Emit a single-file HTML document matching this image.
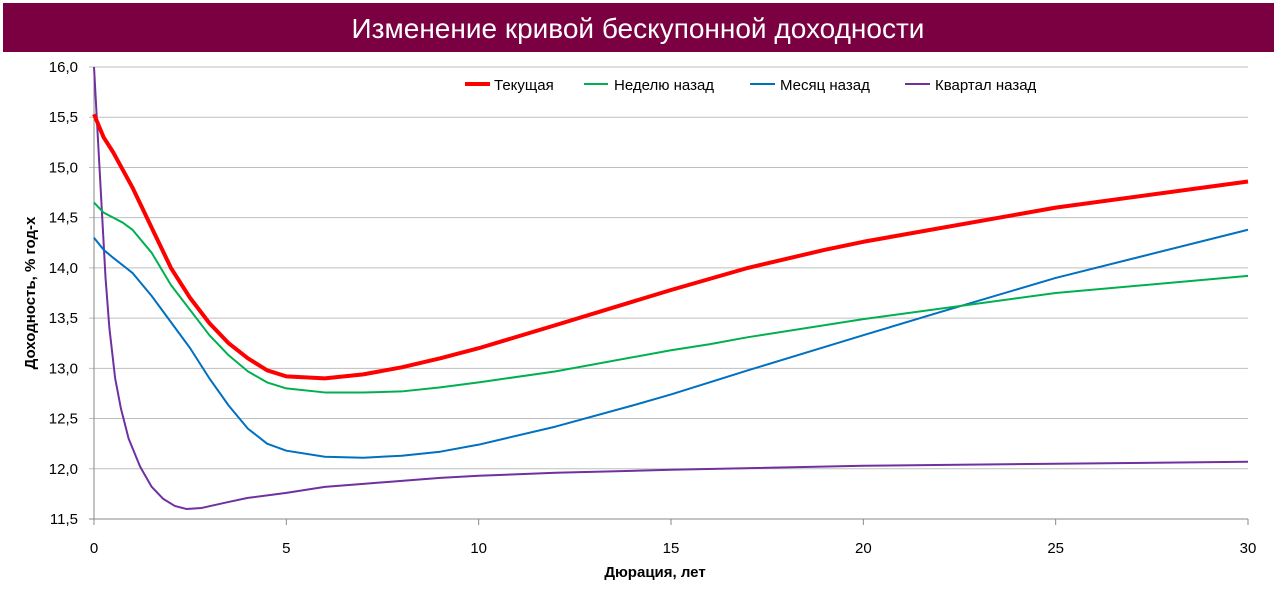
<!DOCTYPE html><html><head><meta charset="utf-8"><style>
body{margin:0;background:#fff;font-family:"Liberation Sans",sans-serif}
</style></head><body>
<svg width="1277" height="586" xmlns="http://www.w3.org/2000/svg" font-family="Liberation Sans, sans-serif">
<rect x="3" y="3" width="1271" height="49" fill="#7B0041"/>
<text x="638" y="38" text-anchor="middle" fill="#fff" font-size="28">Изменение кривой бескупонной доходности</text>
<g id="grid"></g><g id="axes"></g><g id="series"></g>
<text x="655" y="577" text-anchor="middle" font-size="15" font-weight="bold">Дюрация, лет</text>
<text transform="translate(35,293) rotate(-90)" text-anchor="middle" font-size="15" font-weight="bold">Доходность, % год-х</text>
<g>
<line x1="465" y1="84" x2="490" y2="84" stroke="#FF0000" stroke-width="4"/><text x="494" y="90" font-size="15">Текущая</text>
<line x1="584" y1="84" x2="608" y2="84" stroke="#00B050" stroke-width="2"/><text x="614" y="90" font-size="15">Неделю назад</text>
<line x1="750" y1="84" x2="775" y2="84" stroke="#0070C0" stroke-width="2"/><text x="780" y="90" font-size="15">Месяц назад</text>
<line x1="905" y1="84" x2="930" y2="84" stroke="#7030A0" stroke-width="2"/><text x="935" y="90" font-size="15">Квартал назад</text>
</g>
</svg>
<script>
const yTicks=[11.5,12,12.5,13,13.5,14,14.5,15,15.5,16];
const xTicks=[0,5,10,15,20,25,30];
const redX=[0,0.25,0.5,1,1.5,2,2.5,3,3.5,4,4.5,5,6,7,8,9,10,12,15,17,19,20,25,30];
const redY=[15.53,15.3,15.15,14.8,14.4,14.0,13.7,13.45,13.25,13.1,12.98,12.92,12.9,12.94,13.01,13.1,13.2,13.43,13.78,14.0,14.18,14.26,14.6,14.86];
const greenX=[0,0.25,0.5,0.75,1,1.5,2,2.5,3,3.5,4,4.5,5,6,7,8,9,10,12,15,16,17,20,25,30];
const greenY=[14.65,14.55,14.5,14.45,14.38,14.15,13.83,13.58,13.33,13.13,12.97,12.86,12.8,12.76,12.76,12.77,12.81,12.86,12.97,13.18,13.24,13.31,13.49,13.75,13.92];
const blueX=[0,0.25,0.5,1,1.5,2,2.5,3,3.5,4,4.5,5,6,7,8,9,10,12,14,15,17,20,22,25,30];
const blueY=[14.3,14.18,14.1,13.95,13.72,13.46,13.2,12.9,12.63,12.4,12.25,12.18,12.12,12.11,12.13,12.17,12.24,12.42,12.63,12.74,12.98,13.33,13.56,13.9,14.38];
const purpleX=[0,0.1,0.2,0.3,0.4,0.55,0.7,0.9,1.2,1.5,1.8,2.1,2.4,2.8,3.5,4,5,6,7,8,9,10,12,15,20,25,30];
const purpleY=[16,15.3,14.6,13.9,13.4,12.9,12.6,12.3,12.02,11.82,11.7,11.63,11.6,11.61,11.67,11.71,11.76,11.82,11.85,11.88,11.91,11.93,11.96,11.99,12.03,12.05,12.07];
const NS="http://www.w3.org/2000/svg";
const X=v=>94+v*(1248-94)/30, Y=v=>519-(v-11.5)*(519-67)/4.5;
const g=document.getElementById('grid'),a=document.getElementById('axes'),s=document.getElementById('series');
function mk(t,at,p){const e=document.createElementNS(NS,t);for(const k in at)e.setAttribute(k,at[k]);p.appendChild(e);return e;}
yTicks.forEach(v=>{
 const l=mk('line',{x1:89,x2:1248,y1:Y(v),y2:Y(v),stroke:v===11.5?'#888':'#bfbfbf'},g);
 
 
 const t=mk('text',{x:78,y:Y(v)+5,'text-anchor':'end','font-size':15},a);
 t.textContent=v.toFixed(1).replace('.',',');
 
 
});
mk('line',{x1:94,x2:94,y1:67,y2:524,stroke:'#888'},a);
xTicks.forEach(v=>{
 mk('line',{x1:X(v),x2:X(v),y1:519,y2:525,stroke:'#888'},a);
 const t=mk('text',{x:X(v),y:553,'text-anchor':'middle','font-size':15},a);
 t.textContent=v;
 
 
});
function line(xs,ys,c,w,n){
 const p=mk('polyline',{points:xs.map((x,i)=>X(x)+','+Y(ys[i])).join(' '),fill:'none',stroke:c,'stroke-width':w,'stroke-linejoin':'round'},s);
 
 
}
line(purpleX,purpleY,'#7030A0',2,'series-quarter-ago');
line(blueX,blueY,'#0070C0',2,'series-month-ago');
line(greenX,greenY,'#00B050',2,'series-week-ago');
line(redX,redY,'#FF0000',4,'series-current');
</script>
</body></html>
